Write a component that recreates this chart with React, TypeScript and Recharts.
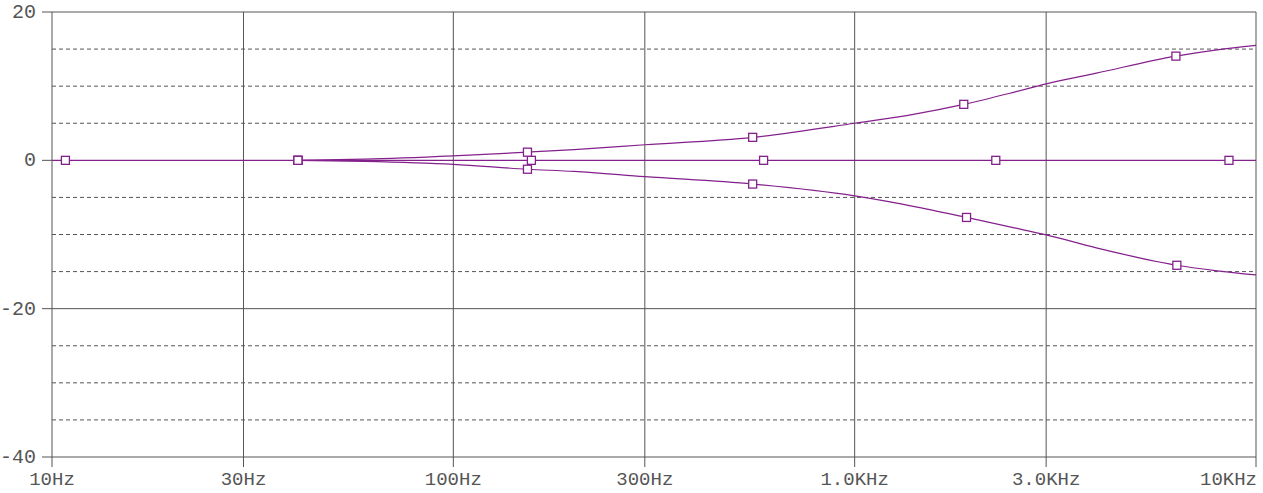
import React from 'react';
import { LineChart, Line, XAxis, YAxis, CartesianGrid } from 'recharts';

// frequency axis (Hz) and labels
const freqTicks = [10, 30, 100, 300, 1000, 3000, 10000];
const freqLabels = ['10Hz', '30Hz', '100Hz', '300Hz', '1.0KHz', '3.0KHz', '10KHz'];
const dbTicks = [20, 0, -20, -40];
const dbDashed = [15, 10, 5, -5, -10, -15, -25, -30, -35];

// flat trace
const flatFreq = [10, 10.8, 41, 156.5, 593, 2247, 8563, 10000];
const flatDb = [0, 0, 0, 0, 0, 0, 0, 0];
const flatMarks = [10.8, 41, 156.5, 593, 2247, 8563];

// boost trace
const boostFreq = [41, 60, 100, 153, 200, 300, 557, 1000, 1400, 1870, 2500, 3000, 4000, 6316, 8000, 10000];
const boostDb = [0, 0.15, 0.6, 1.1, 1.45, 2.1, 3.1, 5.0, 6.2, 7.55, 9.2, 10.3, 11.75, 14.05, 14.9, 15.5];
const boostMarks = [41, 153, 557, 1870, 6316];

// cut trace
const cutFreq = [41, 60, 100, 153, 200, 300, 557, 1000, 1400, 1900, 2500, 3000, 4000, 6350, 8000, 10000];
const cutDb = [0, -0.15, -0.55, -1.2, -1.5, -2.2, -3.2, -4.8, -6.2, -7.7, -9.1, -10.05, -11.8, -14.15, -14.9, -15.45];
const cutMarks = [41, 153, 557, 1900, 6350];

const PURPLE = '#84208c';
const GRID = '#555555';
const FONT = '"Liberation Mono", "DejaVu Sans Mono", monospace';

const build = (fs: number[], vs: number[], marks: number[]) =>
  fs.map((f, i) => ({ f, v: vs[i], m: marks.includes(f) }));

const flatData = build(flatFreq, flatDb, flatMarks);
const boostData = build(boostFreq, boostDb, boostMarks);
const cutData = build(cutFreq, cutDb, cutMarks);

const Marker = (props: any) => {
  const { cx, cy, payload, index } = props;
  if (!payload || !payload.m) return <g key={`n${index}`} />;
  return (
    <rect key={`m${index}`} x={cx - 4} y={cy - 4} width={8} height={8}
      fill="#ffffff" stroke={PURPLE} strokeWidth={1.3} />
  );
};

const XTick = (props: any) => {
  const { x, y, payload, index } = props;
  const last = index === freqTicks.length - 1;
  const label = freqLabels[freqTicks.indexOf(payload.value)] ?? '';
  return (
    <text x={last ? x + 1 : x} y={y + 16} textAnchor={last ? 'end' : 'middle'}
      fill="#555555" fontSize={19} fontFamily={FONT}>
      {label}
    </text>
  );
};

const YTick = (props: any) => {
  const { x, y, payload } = props;
  return (
    <text x={x - 4} y={y + 6} textAnchor="end" fill="#555555" fontSize={20} fontFamily={FONT}>
      {payload.value}
    </text>
  );
};

const App: React.FC = () => {
  return (
    <div style={{ position: 'absolute', left: 0, top: 0, background: '#fff' }}>
      <LineChart width={1263} height={493} margin={{ top: 12, right: 7, bottom: 0, left: 0 }}>
        <CartesianGrid stroke={GRID} strokeDasharray="4 3" vertical={false}
          horizontalValues={dbDashed} />
        <CartesianGrid stroke={GRID} horizontalValues={[20, -20]}
          verticalValues={[30, 100, 300, 1000, 3000, 10000]} />
        <XAxis dataKey="f" type="number" scale="log" domain={[10, 10000]} ticks={freqTicks}
          allowDataOverflow height={36} stroke={GRID} tickSize={10} tick={<XTick />}
          interval={0} />
        <YAxis type="number" domain={[-40, 20]} ticks={dbTicks} width={52} stroke={GRID}
          tickSize={10} tick={<YTick />} interval={0} allowDataOverflow />
        <Line data={flatData} dataKey="v" type="monotone" stroke={PURPLE} strokeWidth={1.2}
          dot={Marker} activeDot={false} isAnimationActive={false} />
        <Line data={boostData} dataKey="v" type="monotone" stroke={PURPLE} strokeWidth={1.2}
          dot={Marker} activeDot={false} isAnimationActive={false} />
        <Line data={cutData} dataKey="v" type="monotone" stroke={PURPLE} strokeWidth={1.2}
          dot={Marker} activeDot={false} isAnimationActive={false} />
      </LineChart>
    </div>
  );
};

export default App;
